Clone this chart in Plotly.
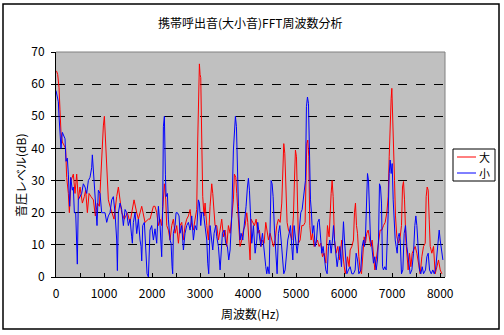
import plotly.graph_objects as go

# FFT spectrum of a mobile-phone ringtone: loud ("大") and quiet ("小") recordings
freq_loud = [0, 14, 35, 63, 83, 104, 132, 167, 201, 222, 257, 278, 313, 361, 396, 431, 465, 500,
             549, 590, 618, 653, 688, 729, 778, 819, 861, 903, 951, 986, 1007, 1028, 1056, 1090,
             1125, 1160, 1208, 1264, 1299, 1333, 1368, 1424, 1486, 1542, 1625, 1681, 1715, 1785,
             1854, 1924, 1958, 1993, 2028, 2062, 2097, 2132, 2167, 2201, 2236, 2257, 2285, 2306,
             2340, 2375, 2410, 2444, 2479, 2514, 2549, 2583, 2618, 2653, 2687, 2722, 2757, 2792,
             2826, 2861, 2896, 2930, 2951, 2972, 2986, 3000, 3014, 3035, 3055, 3083, 3104, 3139,
             3174, 3208, 3243, 3264, 3292, 3312, 3347, 3382, 3417, 3451, 3486, 3521, 3555, 3590,
             3625, 3660, 3694, 3715, 3743, 3764, 3799, 3833, 3868, 3903, 3938, 3972, 3993, 4021,
             4042, 4062, 4090, 4132, 4167, 4201, 4236, 4271, 4299, 4333, 4368, 4396, 4424, 4458,
             4493, 4528, 4562, 4597, 4632, 4667, 4701, 4722, 4743, 4764, 4785, 4812, 4840, 4875,
             4910, 4944, 4965, 4986, 5007, 5028, 5049, 5083, 5118, 5153, 5187, 5222, 5243, 5264,
             5285, 5312, 5340, 5375, 5410, 5444, 5479, 5514, 5549, 5583, 5618, 5653, 5687, 5708,
             5729, 5750, 5771, 5799, 5833, 5868, 5903, 5917, 5951, 5986, 6021, 6042, 6069, 6104,
             6125, 6160, 6194, 6215, 6236, 6257, 6278, 6306, 6333, 6361, 6389, 6417, 6444, 6472,
             6500, 6528, 6556, 6583, 6611, 6639, 6667, 6694, 6722, 6750, 6785, 6819, 6854, 6889,
             6917, 6938, 6958, 6979, 6993, 7007, 7028, 7049, 7069, 7097, 7132, 7167, 7194, 7215,
             7236, 7257, 7285, 7306, 7333, 7361, 7389, 7417, 7444, 7479, 7514, 7549, 7583, 7618,
             7653, 7688, 7708, 7729, 7750, 7771, 7792, 7826, 7861, 7896, 7931, 7965, 8000, 8035]
level_loud = [64, 64, 63, 59, 52, 45, 42, 41, 40, 31, 26, 20, 30, 32, 26, 32, 24, 28,
              23, 25, 27, 20, 26, 25, 24, 19, 23, 22, 38, 47, 50, 42, 34, 24,
              22, 20, 18, 25, 28, 24, 20, 18, 20, 17, 24, 20, 18, 22,
              17, 18, 18, 20, 22, 22, 20, 16, 18, 16, 25, 29, 24, 16,
              14.6, 11.5, 16, 18, 13.6, 16, 10.5, 16, 17, 11.5, 16, 18, 19, 21,
              16, 14.6, 18, 21, 42.6, 64.4, 66.3, 63, 62, 42.6, 25, 19, 23, 16,
              11.5, 22, 29, 26, 19, 16, 16, 11.5, 14.6, 18, 12.5, 14.6, 9.5, 16,
              13.6, 20, 24, 32, 31, 26, 16, 9.5, 11.5, 14.6, 16, 20, 17, 11.5,
              5.3, 18, 17, 16, 18, 13.6, 14.6, 9.5, 11.5, 10.5, 17, 13.6, 11.5, 13.6,
              11.5, 9.5, 11.5, 16, 18, 17, 23, 32, 41.5, 38.5, 26, 17, 14.6, 13.6,
              11.5, 19, 30, 39.5, 37.4, 22, 10.5, 11.5, 16, 16, 17, 41.5, 42.6, 37.4,
              16, 11.5, 13.6, 9.5, 10.5, 11.5, 9.5, 10.5, 6.3, 7.4, 4.3, 16, 12.5, 22,
              26, 30, 25, 11.5, 7.4, 9.5, 5.3, 7.4, 11.5, 5.3, 1, 2.2, 6.3, 3.2,
              8.4, 9.5, 11.5, 20, 23, 16, 13.6, 6.3, 2.2, 1, 7.4, 12.5, 10.5, 13.6,
              14.6, 11.5, 9.5, 11.5, 6.3, 2.2, 5.3, 9.5, 11.5, 14.6, 14.6, 16, 17, 20,
              25, 37.4, 48.8, 55.6, 58.7, 53, 42.6, 30, 19, 12.5, 10.5, 12.5, 16, 28,
              29.7, 24, 11.5, 6.3, 2.2, 7.4, 3.2, 7.4, 8.4, 9.5, 7.4, 3.2, 1, 6.3,
              9.5, 10.5, 25, 28, 27, 18, 9.5, 7.4, 9.5, 1, 3.2, 5.3, 2.2, 1]

freq_quiet = [0, 14, 49, 63, 83, 104, 132, 160, 188, 208, 236, 257, 285, 306, 340, 361, 382, 410,
              431, 444, 465, 500, 535, 569, 604, 639, 674, 708, 743, 757, 778, 799, 826, 854,
              882, 917, 951, 986, 1021, 1056, 1090, 1125, 1160, 1194, 1229, 1264, 1278, 1299,
              1333, 1368, 1403, 1438, 1472, 1507, 1542, 1576, 1590, 1611, 1646, 1681, 1715, 1750,
              1771, 1785, 1806, 1840, 1868, 1896, 1924, 1958, 1993, 2028, 2062, 2097, 2132, 2167,
              2201, 2222, 2236, 2257, 2278, 2292, 2319, 2340, 2375, 2396, 2417, 2430, 2444, 2479,
              2500, 2528, 2562, 2583, 2618, 2653, 2687, 2722, 2757, 2792, 2826, 2861, 2896, 2930,
              2965, 2986, 3014, 3035, 3069, 3104, 3139, 3160, 3180, 3208, 3243, 3264, 3292, 3326,
              3347, 3382, 3417, 3437, 3465, 3500, 3535, 3569, 3597, 3625, 3660, 3694, 3715, 3736,
              3757, 3778, 3799, 3833, 3854, 3889, 3924, 3958, 3986, 4007, 4028, 4049, 4076, 4111,
              4146, 4181, 4201, 4229, 4264, 4299, 4333, 4368, 4389, 4410, 4438, 4458, 4479, 4500,
              4521, 4549, 4576, 4604, 4632, 4660, 4688, 4715, 4743, 4771, 4799, 4826, 4854, 4882,
              4910, 4931, 4958, 4993, 5021, 5049, 5069, 5097, 5125, 5153, 5174, 5194, 5215, 5236,
              5257, 5278, 5299, 5319, 5340, 5368, 5396, 5424, 5451, 5479, 5507, 5535, 5562, 5590,
              5618, 5646, 5674, 5701, 5729, 5757, 5778, 5799, 5826, 5854, 5882, 5910, 5944, 5965,
              5986, 6007, 6028, 6056, 6090, 6125, 6160, 6194, 6229, 6250, 6278, 6306, 6347, 6375,
              6403, 6424, 6444, 6465, 6486, 6507, 6528, 6549, 6576, 6611, 6639, 6667, 6694, 6715,
              6736, 6757, 6778, 6799, 6819, 6847, 6875, 6896, 6917, 6938, 6958, 6979, 7000, 7021,
              7042, 7063, 7083, 7104, 7125, 7146, 7167, 7194, 7222, 7250, 7278, 7306, 7340, 7375,
              7410, 7444, 7472, 7493, 7514, 7542, 7569, 7597, 7625, 7653, 7694, 7722, 7750, 7778,
              7813, 7847, 7875, 7903, 7931, 7958, 7979, 8000, 8028, 8056]
level_quiet = [58, 57, 54.5, 50, 46, 40, 45, 44, 43, 36, 37, 32, 22, 31, 27, 28, 20, 20,
               8, 4, 24, 25, 26, 29, 28, 26, 30, 31, 34, 38, 33, 30, 24, 16,
               27, 26, 20, 20, 20, 17, 19, 20, 24, 25, 20, 11.5, 2, 20,
               23, 21, 16, 21, 20, 16, 18, 12.5, 10.5, 17, 20, 13.5, 18, 11.5,
               9.5, 5, 16, 17, 6, 1, 0, 14.6, 16, 11.5, 15, 10.5, 22, 16,
               6.3, 22, 46.8, 50, 32, 25, 26, 18, 11.5, 10.5, 3.2, 1, 13.6, 16,
               20, 20, 19, 13.6, 16, 8.4, 13.6, 16, 17, 14.6, 19, 11.5, 16, 14.6,
               24, 23, 16, 20, 20, 16, 11.5, 4.3, 1, 16, 11.5, 8.4, 13.6, 16,
               12.5, 9.5, 2.2, 7.4, 13.6, 14.6, 10.5, 9.5, 5.3, 8.4, 19, 39.5, 47.8, 50,
               46.8, 30, 22, 11.5, 13.6, 11.5, 16, 22, 28, 30.7, 27, 17, 10.5, 16,
               7.4, 11.5, 17, 13.6, 9.5, 13.6, 7.4, 3.2, 1, 3.2, 1, 16, 30, 29,
               25, 14.6, 6.3, 1, 13.6, 16, 11.5, 5.3, 1, 2.2, 7.4, 11.5, 13.6, 16,
               9.5, 5.3, 16, 10.5, 7.4, 11.5, 16, 20, 21, 25, 26, 30, 53, 56,
               54, 38.5, 24, 20, 13.6, 16, 9.5, 11.5, 17, 18, 11.5, 7.4, 9.5, 5.3,
               2.2, 1, 9.5, 11.5, 7.4, 11.5, 16, 11.5, 7.4, 3.2, 6.3, 9.5, 3.2, 13.6,
               17.2, 11.5, 5.3, 1, 2.2, 3.2, 1, 1, 2.2, 7.4, 5.3, 1, 2.2, 9.5,
               11.5, 9.5, 12.5, 28, 32.2, 30, 21, 11.5, 9.5, 4.3, 6.3, 2.2, 5.3, 11.5,
               29, 28, 23, 3.2, 2.2, 3.2, 2.2, 9.5, 20, 32.2, 36.4, 32.2, 35.3, 24,
               16, 11.5, 9.5, 7.4, 12.5, 13.6, 11.5, 1, 2.2, 13.6, 16, 9.5, 5.3, 1,
               2.2, 7.4, 16, 19, 16, 7.4, 2.2, 1, 3.2, 1, 2.2, 6.3, 7.4, 2.2,
               1, 2.2, 1, 2.2, 6.3, 9.5, 14.6, 11.5, 7.4, 5.3]

series_names = ["大", "小"]
series_colors = ["#FF0000", "#0000FF"]

x_ticks = [0, 1000, 2000, 3000, 4000, 5000, 6000, 7000, 8000]
y_ticks = [0, 10, 20, 30, 40, 50, 60, 70]

TITLE = "携帯呼出音(大小音)FFT周波数分析"
X_TITLE = "周波数(Hz)"
Y_TITLE = "音圧レベル(dB)"

W, H = 504, 335
PL, PR, PT, PB = 56, 445, 52, 277  # plot area edges in pixels

TXT_FONT = "Liberation Sans Narrow, Noto Sans CJK JP, sans-serif"
JP_FONT = "Noto Sans CJK JP, sans-serif"


def px_x(px):
    return (px - PL) / (PR - PL)


def px_y(py):
    return (PB - py) / (PB - PT)


def label(text, x, y, angle=0, size=12):
    return dict(text=text, xref="paper", yref="paper", x=px_x(x), y=px_y(y),
                xanchor="center", yanchor="middle", showarrow=False, textangle=angle,
                font=dict(family=JP_FONT, size=size, color="black"))


fig = go.Figure()
for name, color, xs, ys in [
    (series_names[0], series_colors[0], freq_loud, level_loud),
    (series_names[1], series_colors[1], freq_quiet, level_quiet),
]:
    fig.add_trace(go.Scatter(x=xs, y=ys, mode="lines", name=name,
                             line=dict(color=color, width=1), showlegend=False))

shapes = [
    # outer chart border
    dict(type="rect", xref="paper", yref="paper", x0=px_x(3), x1=px_x(499),
         y0=px_y(329), y1=px_y(4), line=dict(color="black", width=1.5), layer="below"),
    # top and right edges of the plot area
    dict(type="line", xref="paper", yref="paper", x0=0, x1=1, y0=1, y1=1,
         line=dict(color="#808080", width=1), layer="above"),
    dict(type="line", xref="paper", yref="paper", x0=1, x1=1, y0=0, y1=1,
         line=dict(color="#808080", width=1), layer="above"),
    # legend box
    dict(type="rect", xref="paper", yref="paper", x0=px_x(453), x1=px_x(495),
         y0=px_y(181), y1=px_y(149), line=dict(color="black", width=1),
         fillcolor="white", layer="above"),
]
annotations = [
    label(TITLE, 250, 22),
    label(X_TITLE, 250, 313),
    label(Y_TITLE, 20, 176, angle=-90),
]
for i, (name, color) in enumerate(zip(series_names, series_colors)):
    ly = 157 + 16 * i
    shapes.append(dict(type="line", xref="paper", yref="paper", x0=px_x(457), x1=px_x(476),
                       y0=px_y(ly), y1=px_y(ly), line=dict(color=color, width=1), layer="above"))
    annotations.append(label(name, 485, ly, size=11))

fig.update_layout(
    width=W, height=H,
    margin=dict(l=PL, r=W - PR, t=PT, b=H - PB, pad=0),
    paper_bgcolor="white",
    plot_bgcolor="#C0C0C0",
    shapes=shapes,
    annotations=annotations,
    showlegend=False,
)
fig.update_xaxes(
    range=[0, 8100], tickvals=x_ticks, ticktext=[str(v) for v in x_ticks],
    showgrid=False, zeroline=False,
    showline=True, linecolor="black", linewidth=1,
    ticks="inside", ticklen=4, tickcolor="black",
    minor=dict(dtick=500, ticks="inside", ticklen=4, tickcolor="black", showgrid=False),
    ticklabelstandoff=6,
    tickfont=dict(family=TXT_FONT, size=12, color="black"),
)
fig.update_yaxes(
    range=[0, 70], tickvals=y_ticks, ticktext=[str(v) for v in y_ticks],
    showgrid=True, gridcolor="black", gridwidth=1, griddash="dash",
    zeroline=False,
    showline=True, linecolor="black", linewidth=1,
    ticks="outside", ticklen=4, tickcolor="black",
    ticklabelstandoff=4,
    tickfont=dict(family=TXT_FONT, size=12, color="black"),
)

fig.write_html("out.html")
